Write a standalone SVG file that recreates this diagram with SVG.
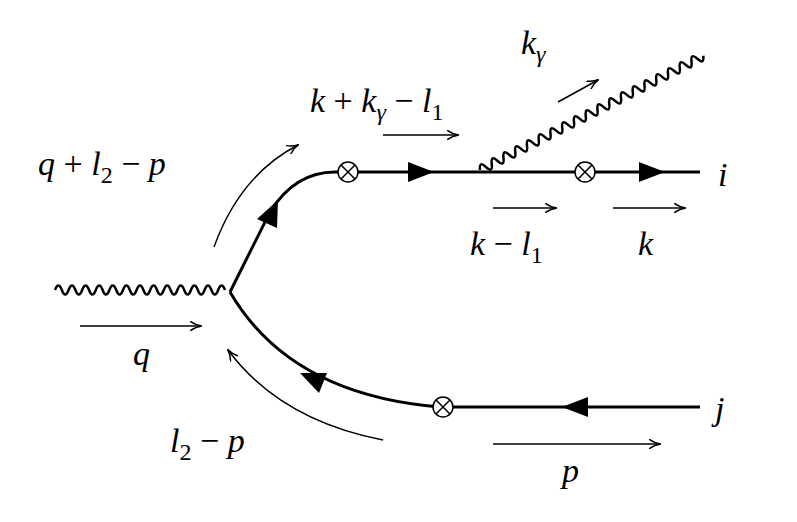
<svg xmlns="http://www.w3.org/2000/svg" width="797" height="522" viewBox="0 0 797 522">
<style>
.f{fill:none;stroke:#000;stroke-width:3}
.w{fill:none;stroke:#000;stroke-width:2.5}
.m{fill:none;stroke:#000;stroke-width:1.5;marker-end:url(#a)}
text{font-family:"Liberation Serif","DejaVu Serif",serif;font-style:italic;font-size:34px}
.r{font-style:normal}
</style>
<defs>
<marker id="a" viewBox="0 0 12 10" refX="11" refY="5" markerWidth="12" markerHeight="10" markerUnits="userSpaceOnUse" orient="auto"><path d="M0,0 Q5,4 12,5 Q5,6 0,10" fill="none" stroke="#000" stroke-width="1.4"/></marker>
<g id="x"><circle r="10" fill="#fff" stroke="#000" stroke-width="1.5"/><path d="M-7,-7L7,7M-7,7L7,-7" stroke="#000" stroke-width="1.5"/></g>
</defs>
<g id="photon-q"><path class="w" d="M55,290 q3.4,-9 6.8,0 t6.8,0 t6.8,0 t6.8,0 t6.8,0 t6.8,0 t6.8,0 t6.8,0 t6.8,0 t6.8,0 t6.8,0 t6.8,0 t6.8,0 t6.8,0 t6.8,0 t6.8,0 t6.8,0 t6.8,0 t6.8,0 t6.8,0 t6.8,0 t6.8,0 t6.8,0 t6.8,0 t6.8,0"/></g>
<g id="photon-k"><path class="w" transform="translate(480,170) rotate(-27.1)" d="M0,0 q3.3,-9 6.6,0 t6.6,0 t6.6,0 t6.6,0 t6.6,0 t6.6,0 t6.6,0 t6.6,0 t6.6,0 t6.6,0 t6.6,0 t6.6,0 t6.6,0 t6.6,0 t6.6,0 t6.6,0 t6.6,0 t6.6,0 t6.6,0 t6.6,0 t6.6,0 t6.6,0 t6.6,0 t6.6,0 t6.6,0 t6.6,0 t6.6,0 t6.6,0 t6.6,0 t6.6,0 t6.6,0 t6.6,0 t6.6,0 t6.6,0 t6.6,0 t6.6,0 t6.6,0 t6.6,0"/></g>
<g id="fermion-upper">
<path class="f" d="M230,292 L270,212 Q295,172 335,172 L700,172"/>
<polygon points="278,200 257,219 277,228"/>
<polygon points="434,172 408,162 408,182"/>
<polygon points="665,172 639,162 639,182"/>
<use href="#x" x="348" y="172"/><use href="#x" x="585" y="172"/>
</g>
<g id="fermion-lower">
<path class="f" d="M230,292 Q290,395 440,407 L700,407"/>
<polygon points="300,373 319,393 327,373"/>
<polygon points="562,407 588,397 588,417"/>
<use href="#x" x="443" y="407"/>
</g>
<g id="momenta">
<path class="m" d="M80,326 L201,326"/>
<path class="m" d="M214,247 Q240,175 298,145"/>
<path class="m" d="M383,135 L458,135"/>
<path class="m" d="M558,102 L598,80"/>
<path class="m" d="M493,208 L556,208"/>
<path class="m" d="M613,208 L685,208"/>
<path class="m" d="M383,440 Q280,420 228,350"/>
<path class="m" d="M493,444 L660,444"/>
</g>
<g id="labels">
<text x="133" y="365">q</text>
<text x="38" y="175">q <tspan class="r">+</tspan> l<tspan class="r" font-size="24" dy="8">2</tspan><tspan dy="-8"> </tspan><tspan class="r">−</tspan> p</text>
<text x="310" y="112">k <tspan class="r">+</tspan> k<tspan font-size="24" dy="8">γ</tspan><tspan dy="-8"> </tspan><tspan class="r">−</tspan> l<tspan class="r" font-size="24" dy="8">1</tspan></text>
<text x="521" y="54">k<tspan font-size="24" dy="8">γ</tspan></text>
<text x="470" y="255">k <tspan class="r">−</tspan> l<tspan class="r" font-size="24" dy="8">1</tspan></text>
<text x="638" y="255">k</text>
<text x="718" y="186">i</text>
<text x="715" y="420">j</text>
<text x="170" y="452">l<tspan class="r" font-size="24" dy="8">2</tspan><tspan dy="-8"> </tspan><tspan class="r">−</tspan> p</text>
<text x="562" y="482">p</text>
</g>
</svg>
